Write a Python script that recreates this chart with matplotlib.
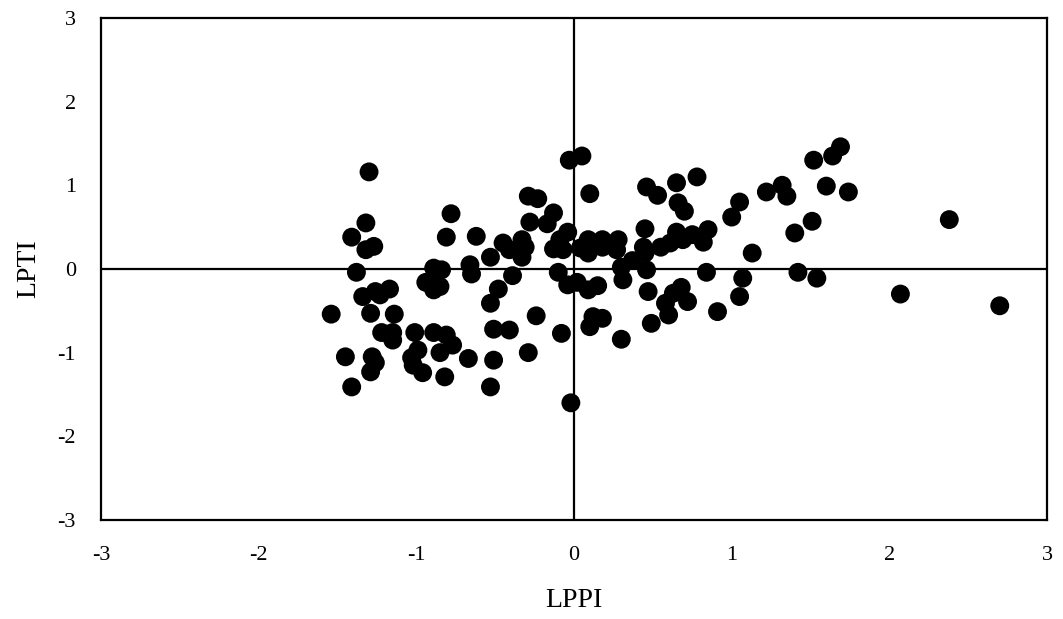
import matplotlib
matplotlib.use('Agg')
from matplotlib import pyplot as plt

# LPPI / LPTI pairs
lppi = [
    -1.30, -0.03, 0.05, -0.29, -0.23, -0.78, -1.32, -1.41, -1.27, -1.32,
    -0.81, -0.62, -0.28, -0.13, -0.17, -0.45, -0.41, -0.33, -0.31, -0.33,
    -0.53, -0.04, -0.09, -0.13, -0.07, -1.38, -0.89, -0.84, -0.94, -0.88,
    -0.85, -0.89, -0.66, -0.65, -0.39, -0.10, -0.04, 0.02, -1.34, -1.26,
    -1.23, -1.17, -0.48, -0.53, -1.54, -1.29, -1.14, -0.24, -1.22, -1.15,
    -1.15, -1.01, -0.89, -0.81, -0.77, -0.51, -0.41, -0.08, -0.99, -1.03,
    -1.02, -0.96, -0.85, -1.45, -1.28, -1.26, -1.29, -0.67, -0.51, -0.29,
    -0.82, -1.41, -0.53, -0.02,
    0.10, 0.46, 0.53, 0.65, 0.78, 0.66, 0.70, 1.05, 1.00, 1.22,
    1.32, 1.35, 1.52, 1.64, 1.69, 1.60, 1.74, 1.40, 1.51, 0.45,
    0.04, 0.09, 0.09, 0.18, 0.18, 0.28, 0.27, 0.44, 0.45, 0.55,
    0.61, 0.65, 0.69, 0.75, 0.82, 0.85, 1.13, 0.30, 0.37, 0.31,
    0.46, 0.09, 0.15, 0.84, 1.07, 1.05, 1.42, 1.54, 0.47, 0.58,
    0.63, 0.68, 0.72, 0.60, 0.91, 0.49, 0.10, 0.12, 0.18, 0.30,
    2.38, 2.07, 2.70,
]
lpti = [
    1.16, 1.30, 1.35, 0.87, 0.84, 0.66, 0.55, 0.38, 0.27, 0.23,
    0.38, 0.39, 0.56, 0.67, 0.54, 0.31, 0.23, 0.35, 0.26, 0.14,
    0.14, 0.44, 0.35, 0.24, 0.23, -0.04, 0.01, -0.01, -0.16, -0.17,
    -0.21, -0.25, 0.05, -0.06, -0.08, -0.04, -0.19, -0.16, -0.33, -0.27,
    -0.31, -0.24, -0.24, -0.41, -0.54, -0.53, -0.54, -0.56, -0.76, -0.76,
    -0.85, -0.76, -0.76, -0.79, -0.91, -0.72, -0.73, -0.77, -0.97, -1.06,
    -1.15, -1.24, -1.00, -1.05, -1.05, -1.12, -1.23, -1.07, -1.09, -1.00,
    -1.29, -1.41, -1.41, -1.60,
    0.90, 0.98, 0.88, 1.03, 1.10, 0.79, 0.69, 0.80, 0.62, 0.92,
    1.00, 0.87, 1.30, 1.35, 1.46, 0.99, 0.92, 0.43, 0.57, 0.48,
    0.25, 0.35, 0.19, 0.35, 0.26, 0.35, 0.23, 0.26, 0.19, 0.26,
    0.31, 0.44, 0.35, 0.41, 0.32, 0.47, 0.19, 0.02, 0.10, -0.13,
    -0.01, -0.25, -0.20, -0.04, -0.11, -0.33, -0.04, -0.11, -0.27, -0.41,
    -0.29, -0.22, -0.39, -0.55, -0.51, -0.65, -0.69, -0.57, -0.59, -0.84,
    0.59, -0.30, -0.44,
]
ticks = [-3, -2, -1, 0, 1, 2, 3]
tick_labels = ['-3', '-2', '-1', '0', '1', '2', '3']

plt.rcParams['font.family'] = ['Liberation Serif', 'DejaVu Serif']

fig = plt.figure(figsize=(10.63, 6.19), dpi=100)
ax = fig.add_axes([0.095, 0.160, 0.890, 0.811])

ax.axhline(0, color='black', linewidth=1.6, zorder=1)
ax.axvline(0, color='black', linewidth=1.6, zorder=1)
ax.scatter(lppi, lpti, s=185, color='black', edgecolors='none', zorder=3)

ax.set_xlim(-3, 3)
ax.set_ylim(-3, 3)
ax.set_xticks(ticks, tick_labels)
ax.set_yticks(ticks, tick_labels)
ax.tick_params(length=0, labelsize=16)
ax.tick_params(axis='x', pad=19)
ax.tick_params(axis='y', pad=18)
for spine in ax.spines.values():
    spine.set_linewidth(1.6)
    spine.set_color('black')

ax.set_xlabel('LPPI', fontsize=20, labelpad=16)
ax.set_ylabel('LPTI', fontsize=20, labelpad=12)

fig.savefig('out.png', dpi=100, facecolor='white')
